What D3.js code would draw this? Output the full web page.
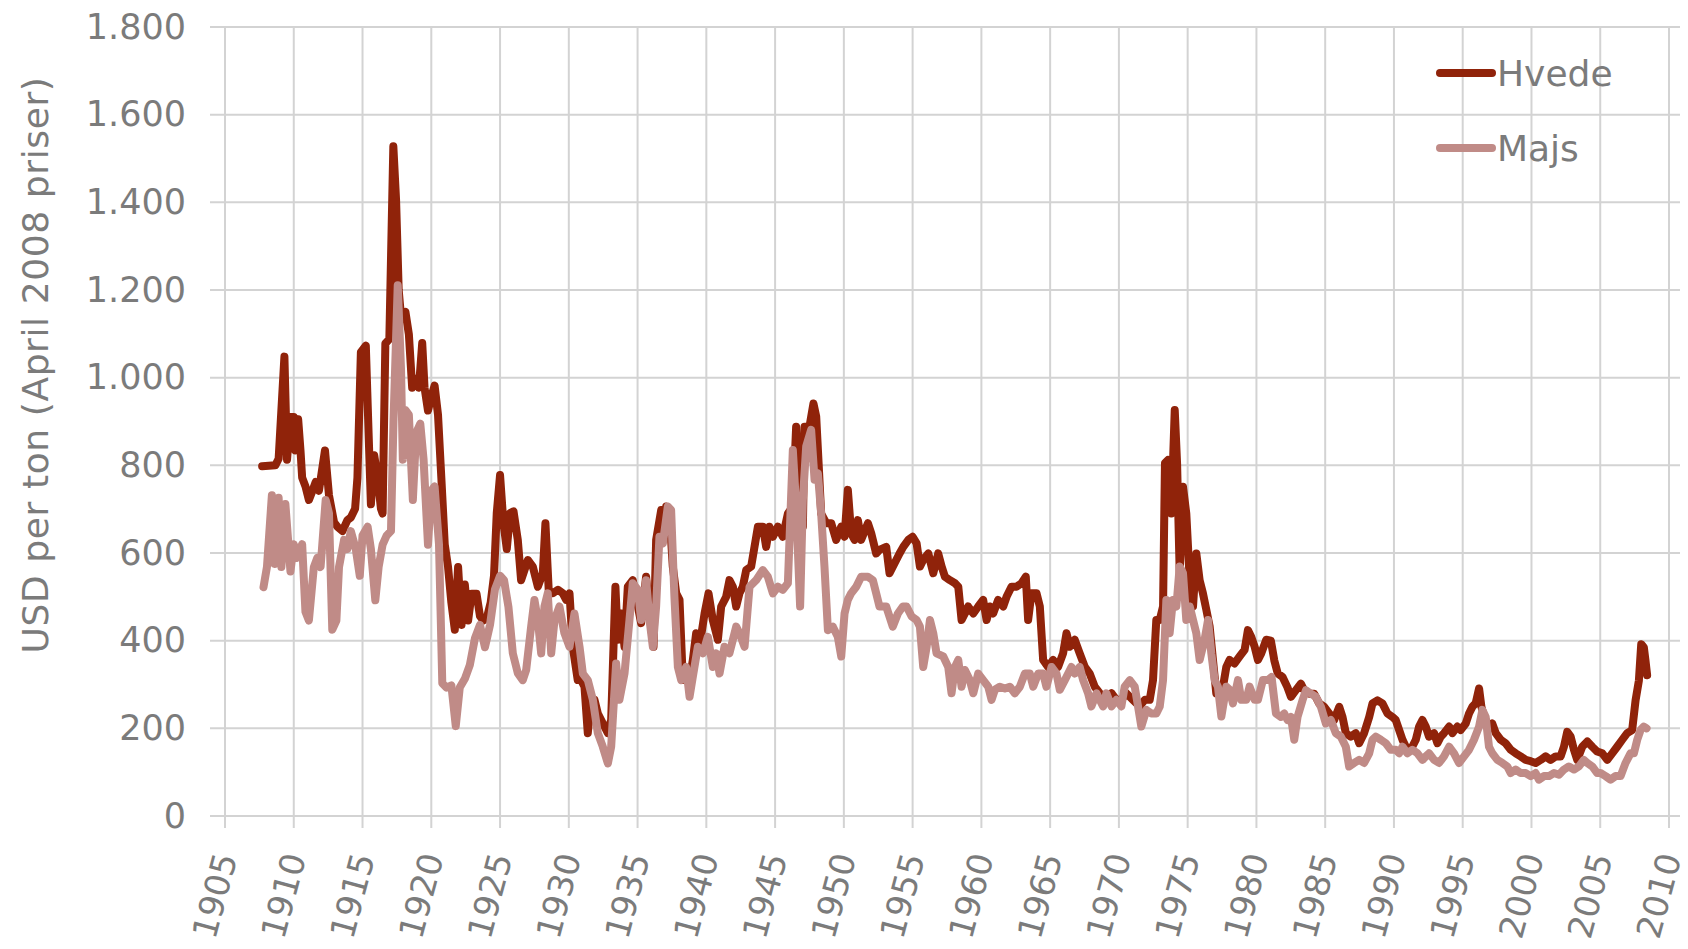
<!DOCTYPE html>
<html>
<head>
<meta charset="utf-8">
<script src="https://cdn.jsdelivr.net/npm/d3@7"></script>
<style>
  body { margin: 0; background: #fff; }
  svg text { font-family: "DejaVu Sans", Verdana, sans-serif; fill: #7b7b7b; }
</style>
</head>
<body>
<div id="chart"></div>
<script>
// wheat and maize prices, USD per ton in April 2008 prices, [year, value]
const hvede = [[1907.7,798],[1908.66,800],[1908.9,815],[1909.32,1048],[1909.51,813],[1909.76,910],[1910.0,910],[1910.12,834],[1910.32,905],[1910.49,834],[1910.61,772],[1910.85,752],[1911.1,721],[1911.34,740],[1911.59,762],[1911.83,742],[1912.27,834],[1912.56,732],[1912.93,670],[1913.17,660],[1913.54,650],[1913.9,675],[1914.15,681],[1914.46,701],[1914.63,772],[1914.88,1058],[1915.24,1073],[1915.44,874],[1915.61,711],[1915.85,823],[1916.1,772],[1916.34,701],[1916.46,690],[1916.66,1078],[1916.95,1088],[1917.24,1528],[1917.44,1405],[1917.63,1200],[1917.8,1140],[1918.12,1150],[1918.37,1099],[1918.61,977],[1918.9,997],[1919.1,977],[1919.34,1079],[1919.51,977],[1919.76,925],[1920.0,956],[1920.24,982],[1920.49,915],[1920.73,772],[1920.98,619],[1921.22,568],[1921.46,487],[1921.71,425],[1921.95,568],[1922.2,436],[1922.44,528],[1922.68,446],[1922.93,507],[1923.29,507],[1923.54,456],[1923.78,446],[1924.07,456],[1924.32,487],[1924.56,548],[1924.76,691],[1925.0,778],[1925.24,670],[1925.49,609],[1925.73,691],[1925.98,695],[1926.29,630],[1926.53,538],[1927.02,584],[1927.38,569],[1927.75,523],[1928.11,554],[1928.3,668],[1928.55,508],[1928.84,508],[1929.21,516],[1929.56,508],[1929.81,493],[1930.05,508],[1930.29,386],[1930.65,310],[1930.9,310],[1931.14,295],[1931.38,189],[1931.62,265],[1931.87,265],[1932.11,234],[1932.35,219],[1932.59,204],[1932.84,189],[1933.08,219],[1933.39,523],[1933.56,402],[1933.81,462],[1934.05,386],[1934.29,523],[1934.65,538],[1935.02,478],[1935.26,440],[1935.62,546],[1935.87,462],[1936.16,386],[1936.35,630],[1936.72,698],[1936.84,630],[1937.08,706],[1937.32,690],[1937.56,569],[1937.81,508],[1938.05,493],[1938.29,310],[1938.53,325],[1938.78,310],[1939.02,356],[1939.26,417],[1939.5,386],[1939.87,462],[1940.16,508],[1940.47,447],[1940.84,402],[1941.08,478],[1941.44,500],[1941.68,538],[1941.93,523],[1942.17,478],[1942.41,508],[1942.65,523],[1942.9,561],[1943.26,569],[1943.75,660],[1944.11,660],[1944.35,614],[1944.59,660],[1944.84,637],[1945.2,660],[1945.56,637],[1945.93,690],[1946.29,706],[1946.53,888],[1946.78,706],[1947.02,660],[1947.14,888],[1947.5,888],[1947.79,941],[1947.99,911],[1948.35,690],[1948.72,668],[1949.08,668],[1949.44,630],[1949.81,660],[1950.05,637],[1950.29,744],[1950.53,645],[1950.78,630],[1951.02,675],[1951.26,630],[1951.75,668],[1951.99,645],[1952.35,599],[1952.59,607],[1953.08,614],[1953.32,554],[1953.68,576],[1954.05,599],[1954.32,614],[1954.69,630],[1955.0,637],[1955.29,622],[1955.53,569],[1955.77,584],[1956.14,599],[1956.5,554],[1956.86,599],[1957.11,569],[1957.35,546],[1957.71,538],[1958.08,531],[1958.32,523],[1958.56,447],[1958.8,462],[1959.04,478],[1959.41,462],[1959.77,478],[1960.13,493],[1960.38,447],[1960.62,478],[1960.86,462],[1961.22,493],[1961.59,478],[1961.83,500],[1962.19,523],[1962.55,523],[1962.92,531],[1963.23,546],[1963.4,447],[1963.64,508],[1964.01,508],[1964.25,478],[1964.49,356],[1964.85,340],[1965.22,356],[1965.58,340],[1965.94,371],[1966.19,417],[1966.43,386],[1966.79,402],[1967.15,371],[1967.52,340],[1967.88,325],[1968.24,295],[1968.61,280],[1969.09,265],[1969.46,280],[1969.82,265],[1970.18,265],[1970.54,280],[1971.02,265],[1971.51,250],[1971.88,265],[1972.24,265],[1972.48,310],[1972.72,447],[1972.97,447],[1973.21,478],[1973.35,805],[1973.57,812],[1973.81,690],[1974.06,926],[1974.23,805],[1974.42,554],[1974.66,751],[1974.9,690],[1975.15,538],[1975.39,478],[1975.63,599],[1975.87,538],[1976.11,508],[1976.36,470],[1976.6,432],[1976.84,356],[1977.08,280],[1977.32,295],[1977.57,295],[1977.81,340],[1978.05,356],[1978.41,348],[1978.78,364],[1979.14,379],[1979.38,424],[1979.62,409],[1979.87,386],[1980.11,356],[1980.35,371],[1980.71,402],[1981.05,400],[1981.3,355],[1981.55,325],[1981.9,317],[1982.25,294],[1982.51,272],[1982.87,287],[1983.23,302],[1983.47,287],[1983.84,279],[1984.2,279],[1984.56,257],[1984.93,249],[1985.29,234],[1985.65,219],[1986.02,249],[1986.26,226],[1986.5,189],[1986.86,181],[1987.23,189],[1987.47,166],[1987.83,189],[1988.2,226],[1988.44,257],[1988.8,264],[1989.16,257],[1989.53,234],[1989.89,226],[1990.13,219],[1990.38,196],[1990.62,174],[1990.86,158],[1991.22,151],[1991.59,174],[1991.83,204],[1992.07,219],[1992.31,204],[1992.55,181],[1992.92,189],[1993.16,166],[1993.4,181],[1993.64,189],[1994.01,204],[1994.25,189],[1994.61,204],[1994.85,196],[1995.22,211],[1995.46,234],[1995.7,249],[1995.94,257],[1996.19,291],[1996.36,249],[1996.55,226],[1996.91,204],[1997.15,211],[1997.4,189],[1997.76,174],[1998.12,166],[1998.49,151],[1998.85,143],[1999.21,136],[1999.58,128],[1999.94,125],[2000.3,121],[2000.67,128],[2001.03,136],[2001.39,128],[2001.76,136],[2002.12,136],[2002.36,158],[2002.6,192],[2002.85,181],[2003.09,151],[2003.33,128],[2003.69,158],[2004.06,170],[2004.42,158],[2004.78,147],[2005.15,143],[2005.51,128],[2005.87,143],[2006.23,158],[2006.6,174],[2006.96,189],[2007.32,196],[2007.57,264],[2007.81,309],[2007.98,392],[2008.17,385],[2008.29,355],[2008.41,321]];

const majs = [[1907.8,522],[1908.05,568],[1908.41,732],[1908.61,575],[1908.9,726],[1909.1,568],[1909.39,712],[1909.76,558],[1910.0,620],[1910.24,589],[1910.61,620],[1910.85,466],[1911.1,446],[1911.46,568],[1911.71,589],[1911.95,568],[1912.32,721],[1912.56,691],[1912.8,425],[1913.1,446],[1913.29,568],[1913.66,630],[1913.9,609],[1914.15,650],[1914.51,609],[1914.8,548],[1915.0,640],[1915.37,660],[1915.61,609],[1915.93,492],[1916.17,568],[1916.46,619],[1916.76,640],[1917.07,650],[1917.25,900],[1917.56,1211],[1917.8,1018],[1917.93,813],[1918.12,926],[1918.37,915],[1918.66,721],[1918.9,874],[1919.2,895],[1919.44,813],[1919.76,619],[1920.0,742],[1920.24,752],[1920.56,620],[1920.8,303],[1921.1,293],[1921.46,298],[1921.78,205],[1922.07,293],[1922.44,313],[1922.8,344],[1923.17,405],[1923.54,436],[1923.9,385],[1924.27,436],[1924.63,517],[1925.0,548],[1925.29,538],[1925.61,477],[1925.93,371],[1926.29,326],[1926.65,310],[1926.9,333],[1927.26,432],[1927.5,493],[1927.75,447],[1927.99,371],[1928.23,478],[1928.47,508],[1928.72,371],[1928.96,447],[1929.32,478],[1929.68,417],[1930.05,386],[1930.41,462],[1930.78,386],[1931.02,325],[1931.38,310],[1931.75,265],[1932.11,189],[1932.47,158],[1932.84,120],[1933.08,158],[1933.44,348],[1933.68,265],[1934.05,325],[1934.41,447],[1934.65,531],[1935.02,516],[1935.26,447],[1935.62,538],[1935.87,447],[1936.11,386],[1936.35,478],[1936.59,637],[1936.84,622],[1937.2,706],[1937.44,698],[1937.68,500],[1937.93,340],[1938.17,310],[1938.53,340],[1938.78,272],[1939.02,318],[1939.38,386],[1939.75,371],[1940.11,409],[1940.47,340],[1940.72,371],[1940.96,325],[1941.32,386],[1941.68,371],[1941.93,402],[1942.17,432],[1942.41,417],[1942.78,386],[1943.14,523],[1943.62,538],[1944.11,561],[1944.47,546],[1944.84,508],[1945.2,523],[1945.56,516],[1945.93,531],[1946.29,835],[1946.53,706],[1946.82,478],[1947.02,721],[1947.26,843],[1947.62,881],[1947.87,767],[1948.11,782],[1948.35,690],[1948.59,569],[1948.84,424],[1949.2,432],[1949.56,409],[1949.81,364],[1950.05,462],[1950.29,493],[1950.53,508],[1950.9,523],[1951.26,546],[1951.75,546],[1952.11,538],[1952.35,508],[1952.59,478],[1953.08,478],[1953.56,432],[1953.93,462],[1954.29,478],[1954.56,478],[1954.93,455],[1955.29,447],[1955.53,432],[1955.77,340],[1956.02,386],[1956.26,447],[1956.5,417],[1956.74,371],[1957.23,364],[1957.59,340],[1957.83,280],[1958.08,340],[1958.32,356],[1958.56,295],[1958.8,333],[1959.16,310],[1959.41,280],[1959.77,325],[1960.13,310],[1960.5,295],[1960.74,265],[1960.98,288],[1961.34,295],[1961.71,291],[1962.07,295],[1962.43,280],[1962.8,295],[1963.16,325],[1963.52,325],[1963.77,295],[1964.13,325],[1964.49,325],[1964.73,295],[1965.1,340],[1965.46,325],[1965.7,288],[1966.07,310],[1966.55,340],[1966.79,325],[1967.15,340],[1967.4,310],[1967.76,280],[1968.0,250],[1968.37,280],[1968.85,250],[1969.09,280],[1969.46,250],[1969.82,265],[1970.18,250],[1970.42,295],[1970.79,310],[1971.15,295],[1971.39,250],[1971.63,204],[1972.0,242],[1972.36,234],[1972.72,234],[1972.97,250],[1973.21,310],[1973.45,493],[1973.69,417],[1973.93,493],[1974.18,478],[1974.42,569],[1974.66,554],[1974.9,447],[1975.15,478],[1975.39,447],[1975.63,417],[1975.87,356],[1976.23,402],[1976.48,447],[1976.72,371],[1976.96,310],[1977.2,295],[1977.45,227],[1977.81,295],[1978.05,288],[1978.29,257],[1978.66,310],[1978.9,265],[1979.26,265],[1979.5,295],[1979.87,265],[1980.11,265],[1980.47,310],[1980.84,310],[1981.1,317],[1981.42,234],[1981.78,226],[1982.02,234],[1982.26,219],[1982.51,226],[1982.75,174],[1982.99,226],[1983.35,264],[1983.6,287],[1983.96,279],[1984.32,272],[1984.69,249],[1985.05,211],[1985.41,219],[1985.77,189],[1986.14,181],[1986.5,158],[1986.74,113],[1987.11,121],[1987.47,128],[1987.83,121],[1988.2,143],[1988.44,174],[1988.68,181],[1989.04,174],[1989.41,166],[1989.77,151],[1990.13,151],[1990.38,143],[1990.62,158],[1990.98,143],[1991.34,151],[1991.71,143],[1992.07,128],[1992.31,136],[1992.55,143],[1992.92,128],[1993.28,121],[1993.64,136],[1994.01,158],[1994.37,143],[1994.73,121],[1995.1,136],[1995.46,151],[1995.82,174],[1996.19,204],[1996.43,242],[1996.67,226],[1996.91,158],[1997.15,143],[1997.52,128],[1997.88,121],[1998.24,113],[1998.49,98],[1998.85,106],[1999.21,98],[1999.58,98],[1999.94,91],[2000.3,98],[2000.54,83],[2000.91,91],[2001.27,91],[2001.63,98],[2002.0,94],[2002.36,106],[2002.72,113],[2003.09,106],[2003.45,113],[2003.81,128],[2004.06,121],[2004.42,113],[2004.78,98],[2005.02,98],[2005.39,91],[2005.75,83],[2006.11,91],[2006.48,91],[2006.84,121],[2007.2,143],[2007.45,143],[2007.69,174],[2007.93,196],[2008.17,204],[2008.37,200]];

const seriesNames = ["Hvede", "Majs"];
const seriesColors = ["#90230a", "#c08b87"];
const yTicks = [0, 200, 400, 600, 800, 1000, 1200, 1400, 1600, 1800];
const xTicks = d3.range(1905, 2011, 5);
const yTitle = "USD per ton (April 2008 priser)";

const width = 1688, height = 949;
const plotLeft = 210, plotRight = 1680, plotTop = 27, plotBottom = 816;

const svg = d3.select("#chart")
    .append("svg")
    .attr("width", width)
    .attr("height", height);

const xScale = d3.scaleLinear().domain([1905, 2010]).range([225, 1669]);
const yScale = d3.scaleLinear().domain([0, 1800]).range([plotBottom, plotTop]);

// danish number format: 1.800
const da = d3.formatLocale({decimal: ",", thousands: ".", grouping: [3], currency: ["", " kr."]});
const fmt = da.format(",d");

// gridlines
svg.append("g").selectAll("line")
    .data(yTicks)
    .enter()
    .append("line")
    .attr("x1", plotLeft)
    .attr("x2", plotRight)
    .attr("y1", d => yScale(d))
    .attr("y2", d => yScale(d))
    .attr("stroke", "#d3d3d3")
    .attr("stroke-width", 2);

svg.append("g").selectAll("line")
    .data(xTicks)
    .enter()
    .append("line")
    .attr("x1", d => xScale(d))
    .attr("x2", d => xScale(d))
    .attr("y1", plotTop)
    .attr("y2", plotBottom + 12)
    .attr("stroke", "#d3d3d3")
    .attr("stroke-width", 2);

// y axis labels
const yAxis = d3.axisLeft(yScale).tickValues(yTicks).tickFormat(fmt).tickSize(0).tickPadding(0);
const gy = svg.append("g")
    .attr("transform", "translate(186,0)")
    .call(yAxis);
gy.select(".domain").remove();
gy.selectAll("text")
    .attr("font-size", 35)
    .attr("font-family", null);

// x axis labels, rotated
const xAxis = d3.axisBottom(xScale).tickValues(xTicks).tickFormat(d3.format("d")).tickSize(0);
const gx = svg.append("g")
    .call(xAxis);
gx.select(".domain").remove();
gx.selectAll(".tick text")
    .attr("font-size", 34)
    .attr("font-family", null)
    .attr("text-anchor", "end")
    .attr("dy", 0)
    .attr("y", 0)
    .attr("transform", "translate(12,857) rotate(-75)");

// y title
svg.append("text")
    .attr("transform", "translate(48,365) rotate(-90)")
    .attr("text-anchor", "middle")
    .attr("font-size", 36)
    .attr("letter-spacing", 0.6)
    .text(yTitle);

// lines
const line = d3.line()
    .x(d => xScale(d[0]))
    .y(d => yScale(d[1]));

[hvede, majs].forEach((s, i) => {
    svg.append("path")
        .datum(s)
        .attr("fill", "none")
        .attr("stroke", seriesColors[i])
        .attr("stroke-width", 8)
        .attr("stroke-linejoin", "round")
        .attr("stroke-linecap", "round")
        .attr("d", line);
});

// legend
const legend = svg.append("g").attr("transform", "translate(1440,73)");
seriesNames.forEach((name, i) => {
    const row = legend.append("g").attr("transform", "translate(0," + (i * 75) + ")");
    row.append("line")
        .attr("x1", 0)
        .attr("x2", 52)
        .attr("stroke", seriesColors[i])
        .attr("stroke-width", 8)
        .attr("stroke-linecap", "round");
    row.append("text")
        .attr("x", 57)
        .attr("y", 0)
        .attr("dy", "0.36em")
        .attr("font-size", 36)
        .text(name);
});
</script>
</body>
</html>
